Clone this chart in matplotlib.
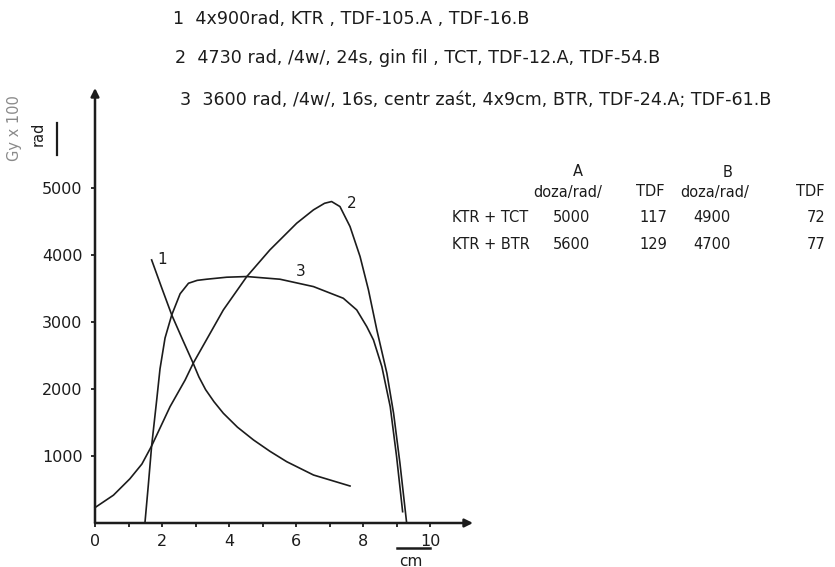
import matplotlib
matplotlib.use("Agg")
import matplotlib.pyplot as plt

# ---- dose profile curves (depth in cm, dose in rad) ----
c1_x = [1.69, 1.99, 2.29, 2.61, 2.93, 3.1, 3.3, 3.55, 3.83, 4.25, 4.73, 5.22,
        5.72, 6.52, 7.61]
c1_y = [3925, 3510, 3104, 2740, 2383, 2180, 1990, 1810, 1637, 1430, 1239, 1070,
        915, 716, 552]

c2_x = [0.0, 0.55, 1.04, 1.4, 1.69, 2.24, 2.69, 2.93, 3.83, 4.53, 5.22, 5.52,
        6.02, 6.52, 6.85, 7.06, 7.31, 7.61, 7.91, 8.16, 8.41, 8.71, 8.91, 9.1,
        9.3]
c2_y = [230, 415, 659, 880, 1150, 1736, 2134, 2383, 3179, 3677, 4075, 4224,
        4473, 4672, 4770, 4796, 4721, 4423, 3975, 3478, 2881, 2234, 1637, 891,
        0]

c3_x = [1.49, 1.59, 1.69, 1.84, 1.94, 2.09, 2.29, 2.54, 2.79, 3.05, 3.33, 3.93,
        4.53, 5.52, 6.52, 7.41, 7.81, 8.11, 8.31, 8.56, 8.81, 9.0, 9.18]
c3_y = [0, 560, 1150, 1830, 2300, 2760, 3104, 3420, 3577, 3620, 3637, 3667,
        3677, 3637, 3527, 3353, 3179, 2930, 2731, 2333, 1736, 990, 169]

curve_labels = ["1", "2", "3"]
label_x = [1.99, 7.66, 6.14]
label_y = [3925, 4771, 3751]

x_ticks = [0, 2, 4, 6, 8, 10]
y_ticks = [1000, 2000, 3000, 4000, 5000]
y_ticklabels = ["1000", "2000", "3000", "4000", "5000"]

legend_lines = [
    "1  4x900rad, KTR , TDF-105.A , TDF-16.B",
    "2  4730 rad, /4w/, 24s, gin fil , TCT, TDF-12.A, TDF-54.B",
    "3  3600 rad, /4w/, 16s, centr zaśt, 4x9cm, BTR, TDF-24.A; TDF-61.B",
]

# ---- summary table ----
tbl_groups = ["A", "B"]
tbl_header = ["doza/rad/", "TDF", "doza/rad/", "TDF"]
tbl_rows = ["KTR + TCT", "KTR + BTR"]
tbl_values = [["5000", "117", "4900", "72"],
              ["5600", "129", "4700", "77"]]

W, H = 835, 567
fig = plt.figure(figsize=(W / 100, H / 100), dpi=100)
fig.patch.set_facecolor("white")
ink = "#1c1c1c"


def fx(px):
    return px / W


def fy(py):
    return 1 - py / H


# axes frame: origin at pixel (95, 523), arrow tips at x=473 and y=88
ax = fig.add_axes([fx(95), fy(523), (473 - 95) / W, (523 - 88) / H])
ax.set_xlim(0, 11.28)
ax.set_ylim(0, 6490)
for s in ax.spines.values():
    s.set_visible(False)
ax.set_facecolor("none")

arrow = dict(arrowstyle="-|>", color=ink, lw=1.8, mutation_scale=12,
             shrinkA=0, shrinkB=0)
ax.annotate("", xy=(1.0, 0), xytext=(0, 0), xycoords="axes fraction",
            textcoords="axes fraction", arrowprops=arrow)
ax.annotate("", xy=(0, 1.0), xytext=(0, 0), xycoords="axes fraction",
            textcoords="axes fraction", arrowprops=arrow)

ax.set_xticks(x_ticks)
ax.set_xticklabels([str(t) for t in x_ticks], fontsize=11.5, color=ink)
ax.set_xticks(range(0, 11), minor=True)
ax.set_yticks(y_ticks)
ax.set_yticklabels(y_ticklabels, fontsize=11.5, color=ink)
ax.tick_params(axis="both", which="both", direction="out", length=3,
               width=1.3, color=ink)
ax.tick_params(axis="x", pad=5)
ax.tick_params(axis="y", pad=6)

for xs, ys in [(c1_x, c1_y), (c2_x, c2_y), (c3_x, c3_y)]:
    ax.plot(xs, ys, color=ink, lw=1.2, solid_joinstyle="round", clip_on=False)

for t, lx, ly in zip(curve_labels, label_x, label_y):
    ax.text(lx, ly, t, fontsize=11, color=ink, ha="center", va="center")

# unit under the x axis
fig.add_artist(plt.Line2D([fx(397), fx(430)], [fy(548), fy(548)],
                          color=ink, lw=1.8))
fig.text(fx(411), fy(561), "cm", fontsize=11, color=ink, ha="center",
         va="center")

# unit beside the y axis
fig.text(fx(15), fy(128), "Gy x 100", fontsize=10.5, color="#8a8a8a",
         rotation=90, ha="center", va="center")
fig.text(fx(38), fy(134), "rad", fontsize=10.5, color=ink, rotation=90,
         ha="center", va="center")
fig.add_artist(plt.Line2D([fx(57), fx(57)], [fy(123), fy(155)],
                          color=ink, lw=1.6))

# description lines
line_pos = [(173, 19), (175, 58), (180, 100)]
for txt, (px, py) in zip(legend_lines, line_pos):
    fig.text(fx(px), fy(py), txt, fontsize=12.6, color=ink, ha="left",
             va="center")

# table
fs_t = 10.5
fig.text(fx(578), fy(172), tbl_groups[0], fontsize=fs_t, color=ink,
         ha="center", va="center")
fig.text(fx(728), fy(173), tbl_groups[1], fontsize=fs_t, color=ink,
         ha="center", va="center")
col_x = [568, 650, 715, 810]
for cx, h in zip(col_x, tbl_header):
    fig.text(fx(cx), fy(192), h, fontsize=fs_t, color=ink, ha="center",
             va="center")
row_y = [218, 245]
for ry, name, vals in zip(row_y, tbl_rows, tbl_values):
    fig.text(fx(452), fy(ry), name, fontsize=fs_t, color=ink, ha="left",
             va="center")
    val_x = [571, 653, 712, 816]
    for vx, v in zip(val_x, vals):
        fig.text(fx(vx), fy(ry), v, fontsize=fs_t, color=ink, ha="center",
                 va="center")

fig.savefig("out.png", dpi=100, facecolor="white")
